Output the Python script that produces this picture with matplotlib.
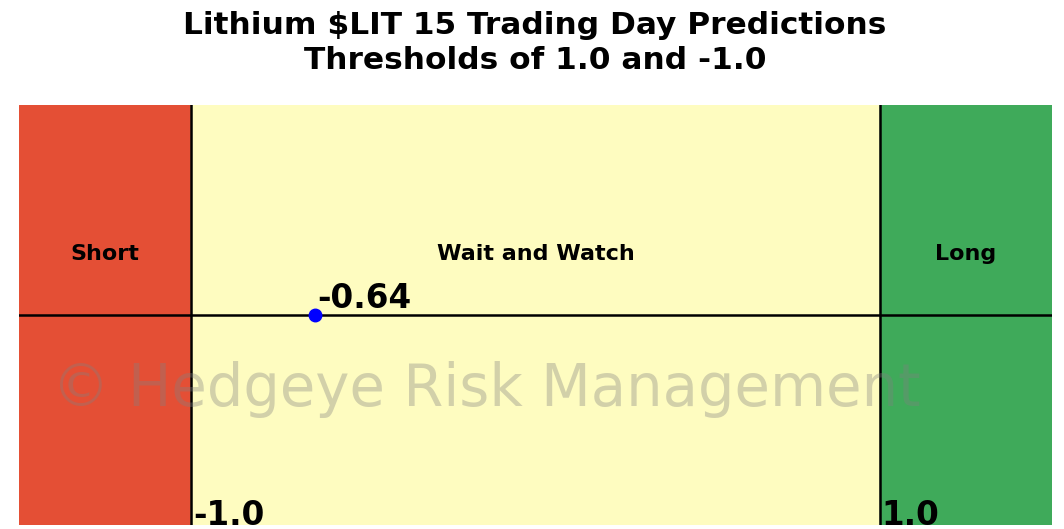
import matplotlib
matplotlib.use("Agg")
import matplotlib.pyplot as plt

# Zone boundaries and current reading
zone_names = ["Short", "Wait and Watch", "Long"]
zone_edges = [-1.5, -1.0, 1.0, 1.5]
zone_colors = ["#E44F35", "#FEFCC0", "#3FAA5A"]
thresholds = [-1.0, 1.0]
threshold_labels = ["-1.0", "1.0"]
prediction = -0.64
prediction_label = "-0.64"

fig = plt.figure(figsize=(10.64, 5.29), dpi=100)
ax = fig.add_axes([19 / 1064, 4 / 529, (1052 - 19) / 1064, 420 / 529])
ax.set_xlim(zone_edges[0], zone_edges[-1])
ax.set_ylim(-1, 1)
ax.axis("off")

for i, name in enumerate(zone_names):
    lo, hi = zone_edges[i], zone_edges[i + 1]
    ax.axvspan(lo, hi, color=zone_colors[i], zorder=0)
    ax.text((lo + hi) / 2, 0.29, name, ha="center", va="center",
            fontsize=16, fontweight="bold", zorder=3)

ax.axhline(0, color="black", lw=1.8, zorder=2)
for t, lab in zip(thresholds, threshold_labels):
    ax.axvline(t, color="black", lw=1.8, zorder=2)
    ax.text(t + 0.005, -1.0, lab, ha="left", va="baseline",
            fontsize=23.5, fontweight="bold", zorder=3, clip_on=False)

ax.plot([prediction], [0], "o", color="blue", ms=9, zorder=4)
ax.text(prediction + 0.005, 0.0, prediction_label, ha="left", va="bottom",
        fontsize=23.5, fontweight="bold", zorder=4)

ax.text(-0.143, -0.355, "\u00a9 Hedgeye Risk Management", ha="center", va="center",
        fontsize=41.5, family=["DejaVu Sans"], color="gray", alpha=0.35,
        zorder=5)

fig.text(535 / 1064, 1 - 43 / 529,
         "Lithium $LIT 15 Trading Day Predictions\nThresholds of 1.0 and -1.0",
         ha="center", va="center", fontsize=22.5, fontweight="bold",
         linespacing=1.22)

fig.savefig("out.png", dpi=100)
